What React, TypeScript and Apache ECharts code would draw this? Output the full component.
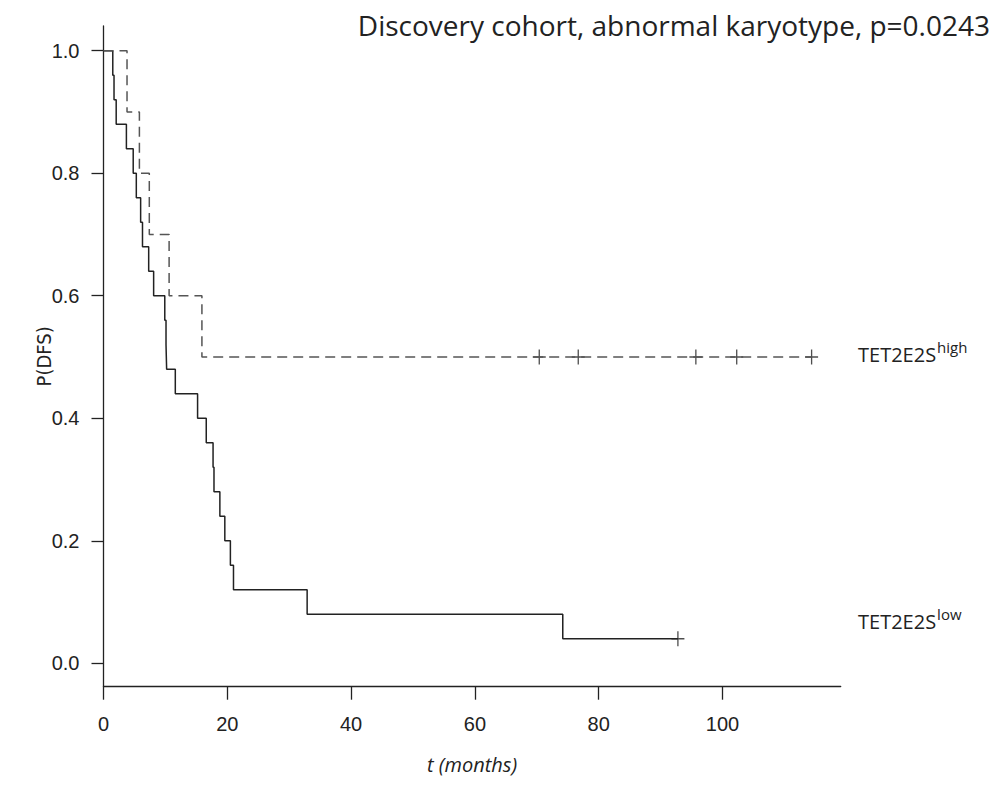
import React, { useEffect, useRef } from "react";
import * as echarts from "echarts";

// Kaplan-Meier step data (months, survival after drop)
const lowTimes = [0, 1.5, 1.7, 2.05, 3.7, 4.8, 5.3, 6.0, 6.3, 7.3, 8.1, 9.9, 10.1, 10.2, 11.6, 15.2, 16.6, 17.7, 17.85, 18.8, 19.6, 20.5, 21.0, 32.9, 74.2, 92.8];
const lowSurv = [1.0, 0.96, 0.92, 0.88, 0.84, 0.8, 0.76, 0.72, 0.68, 0.64, 0.6, 0.56, 0.52, 0.48, 0.44, 0.4, 0.36, 0.32, 0.28, 0.24, 0.2, 0.16, 0.12, 0.08, 0.04, 0.04];
const lowCensorTimes = [92.8];
const lowCensorSurv = [0.04];

const highTimes = [0, 3.8, 5.8, 7.4, 10.6, 15.9, 114.4];
const highSurv = [1.0, 0.9, 0.8, 0.7, 0.6, 0.5, 0.5];
const highCensorTimes = [70.4, 76.7, 95.7, 102.3, 114.4];
const highCensorSurv = [0.5, 0.5, 0.5, 0.5, 0.5];

const xTicks = [0, 20, 40, 60, 80, 100];
const yTicks = [0, 0.2, 0.4, 0.6, 0.8, 1.0];

const title = "Discovery cohort, abnormal karyotype, p=0.0243";
const highLabel = "TET2E2S";
const highSup = "high";
const lowLabel = "TET2E2S";
const lowSup = "low";

const zip = (a: number[], b: number[]) => a.map((v, i) => [v, b[i]]);

const plusPath = "path://M5,0 L5,10 M0,5 L10,5";

export default function App() {
  const ref = useRef<HTMLDivElement>(null);
  useEffect(() => {
    if (!ref.current) return;
    const chart = echarts.init(ref.current, null, { renderer: "svg" });
    const axisColor = "#222";
    const rich = {
      a: { fontFamily: "Open Sans", fontSize: 20, fill: "#222", lineHeight: 26, verticalAlign: "bottom" },
      b: { fontFamily: "Open Sans", fontSize: 15, fill: "#222", lineHeight: 26, verticalAlign: "top", padding: [1, 0, 0, 1] },
    };
    chart.setOption({
      animation: false,
      backgroundColor: "#fff",
      grid: { left: 103.5, right: 164.3, top: 26, bottom: 103.3, containLabel: false },
      xAxis: {
        type: "value",
        min: 0,
        max: 119.1,
        name: "t (months)",
        nameLocation: "middle",
        nameGap: 68,
        nameMoveOverlap: false,
        nameTextStyle: { fontFamily: "Open Sans", fontStyle: "italic", fontSize: 20, color: "#222" },
        axisLine: { show: true, onZero: false, lineStyle: { color: axisColor, width: 1.3 } },
        axisTick: { show: true, length: 13, customValues: xTicks, lineStyle: { color: axisColor, width: 1.3 } },
        axisLabel: {
          customValues: xTicks,
          margin: 27,
          fontFamily: "Liberation Sans",
          fontSize: 20,
          color: "#222",
        },
        splitLine: { show: false },
      },
      yAxis: {
        type: "value",
        min: -0.0382,
        max: 1.0403,
        name: "P(DFS)",
        nameLocation: "middle",
        nameRotate: 90,
        nameGap: 50,
        nameMoveOverlap: false,
        nameTextStyle: { fontFamily: "DejaVu Sans Condensed, Liberation Sans", fontSize: 20, color: "#222" },
        axisLine: { show: true, onZero: false, lineStyle: { color: axisColor, width: 1.3 } },
        axisTick: { show: true, length: 12, customValues: yTicks, lineStyle: { color: axisColor, width: 1.3 } },
        axisLabel: {
          customValues: yTicks,
          margin: 24,
          fontFamily: "Liberation Sans",
          fontSize: 20,
          color: "#222",
          formatter: (v: number) => v.toFixed(1),
        },
        splitLine: { show: false },
      },
      series: [
        {
          type: "line",
          step: "end",
          data: zip(lowTimes, lowSurv),
          showSymbol: false,
          symbol: "none",
          lineStyle: { color: "#222", width: 1.5 },
        },
        {
          type: "line",
          step: "end",
          data: zip(highTimes, highSurv),
          showSymbol: false,
          symbol: "none",
          lineStyle: { color: "#555", width: 1.5, type: [10, 6] },
        },
        {
          type: "scatter",
          data: zip(lowCensorTimes, lowCensorSurv),
          symbol: plusPath,
          symbolSize: [13, 15],
          itemStyle: { color: "none", borderColor: "#222", borderWidth: 1.4 },
        },
        {
          type: "scatter",
          data: zip(highCensorTimes, highCensorSurv),
          symbol: plusPath,
          symbolSize: [13, 15],
          itemStyle: { color: "none", borderColor: "#222", borderWidth: 1.4 },
        },
      ],
      graphic: [
        {
          type: "text",
          right: 15,
          top: 11,
          style: {
            text: title,
            fontFamily: "Open Sans",
            fontSize: 28,
            fill: "#222",
          },
        },
        {
          type: "text",
          left: 858,
          top: 338,
          style: { text: `{a|${highLabel}}{b|${highSup}}`, rich },
        },
        {
          type: "text",
          left: 858,
          top: 605,
          style: { text: `{a|${lowLabel}}{b|${lowSup}}`, rich },
        },
      ],
    });
    return () => chart.dispose();
  }, []);
  return (
    <div
      ref={ref}
      style={{ position: "fixed", left: 0, top: 0, width: 1005, height: 790, background: "#fff" }}
    />
  );
}
